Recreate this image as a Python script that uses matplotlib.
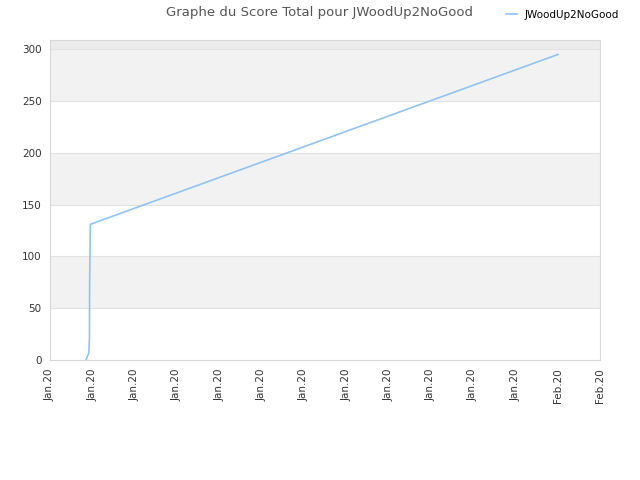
import matplotlib
matplotlib.use("Agg")
import matplotlib.pyplot as plt
import matplotlib.dates as mdates
import pandas as pd

# score data
dates = pd.to_datetime([
    "2020-01-09 16:48", "2020-01-09 20:10", "2020-01-09 20:53",
    "2020-01-09 21:00", "2020-01-09 21:22", "2020-01-09 21:50",
    "2020-02-01 00:15",
])
scores = [0, 7, 22, 69, 100, 131, 295]

tick_dates = pd.date_range("2020-01-08", "2020-02-03", freq="2D")
name = "JWoodUp2NoGood"
line_col = "#90c3f5"

fig = plt.figure(figsize=(6.4, 4.8), dpi=100)
ax = fig.add_axes([0.078, 0.25, 0.8595, 0.6667])

ymax = 309
# alternating bands
for lo in (50, 150, 250):
    ax.axhspan(lo, lo + 50, color="#f2f2f2", zorder=0, lw=0)
ax.axhspan(300, ymax, color="#ececec", zorder=0, lw=0)
for yv in range(50, 301, 50):
    ax.axhline(yv, color="#e2e2e2", lw=0.8, zorder=1)

ax.plot(dates, scores, color=line_col, lw=1.2, label=name, zorder=3)

ax.set_ylim(0, ymax)
ax.set_yticks(range(0, 301, 50))
ax.set_xlim(tick_dates[0], tick_dates[-1])
ax.set_xticks(tick_dates)
ax.xaxis.set_major_formatter(mdates.DateFormatter("%b.%y"))
plt.setp(ax.get_xticklabels(), rotation=90)
ax.tick_params(axis="both", labelsize=7.5, colors="#333333", length=0, pad=6)

for s in ax.spines.values():
    s.set_color("#d8d8d8")

fig.text(0.5, 0.988, "Graphe du Score Total pour " + name, ha="center", va="top",
         fontsize=9.5, color="#555555")
ax.legend(loc="upper right", bbox_to_anchor=(1.052, 1.124), frameon=False,
          fontsize=7.5, handlelength=1.0, handletextpad=0.8)

fig.savefig("out.png", dpi=100)
